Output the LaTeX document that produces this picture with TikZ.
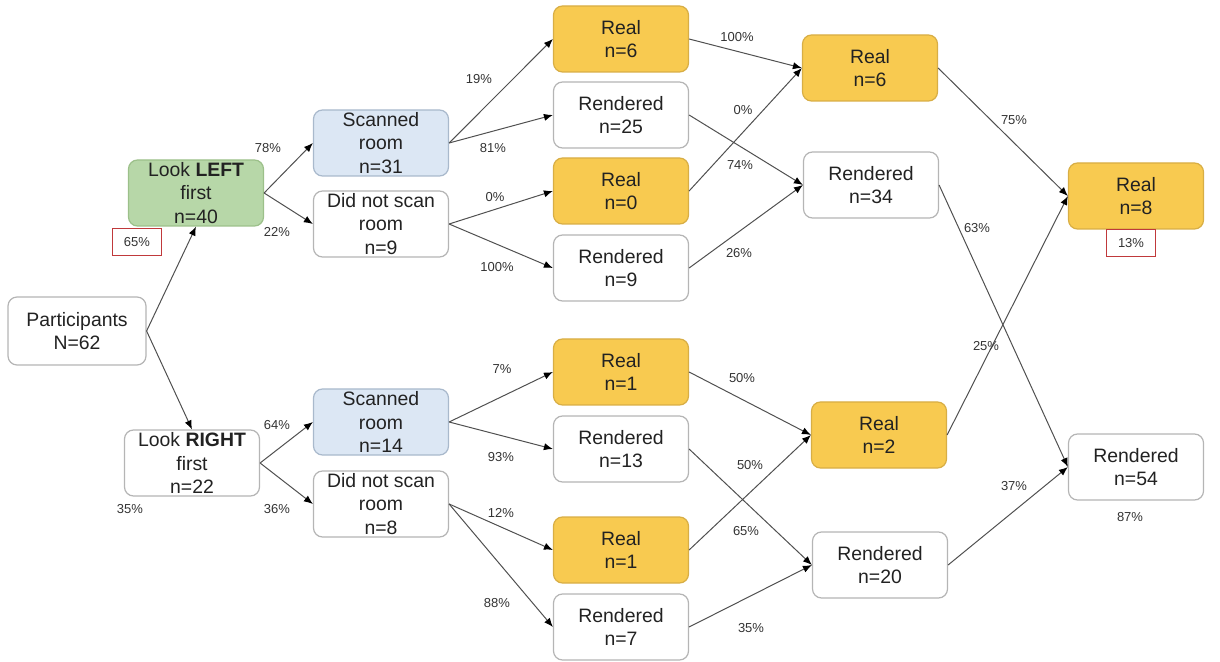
\documentclass[tikz,border=0pt]{standalone}
\usepackage{fontspec}
\setmainfont{Liberation Sans}
\usetikzlibrary{arrows.meta}
\definecolor{txt}{HTML}{222222}
\definecolor{lbl}{HTML}{333333}
\definecolor{wborder}{HTML}{B5B5B5}
\definecolor{gfill}{HTML}{B7D7A8}
\definecolor{gborder}{HTML}{9CC08A}
\definecolor{bfill}{HTML}{DCE7F4}
\definecolor{bborder}{HTML}{A9B9CC}
\definecolor{yfill}{HTML}{F8CA50}
\definecolor{yborder}{HTML}{D8AE45}
\definecolor{redbox}{HTML}{C0393B}
\definecolor{edgec}{HTML}{505050}
\tikzset{
  box/.style={draw=wborder, fill=white, line width=0.6pt, rounded corners=4.5pt,
    minimum width=67.5pt, minimum height=33pt, inner sep=0pt, align=center,
    text=txt, font=\fontsize{9.7}{11.7}\selectfont},
  wbox/.style={box},
  gbox/.style={box, draw=gborder, fill=gfill},
  bbox/.style={box, draw=bborder, fill=bfill},
  ybox/.style={box, draw=yborder, fill=yfill},
  pct/.style={text=lbl, font=\fontsize{6.5}{8}\selectfont, inner sep=0pt},
  rbox/.style={draw=redbox, line width=0.7pt, minimum width=24.5pt, minimum height=13.5pt,
    inner sep=0pt, text=lbl, font=\fontsize{6.5}{8}\selectfont},
  edge/.style={draw=edgec, line width=0.5pt, -{Latex[length=4.5pt,width=3.6pt,color=black]}},
}
\begin{document}
\begin{tikzpicture}[x=0.5pt,y=-0.5pt]
\useasboundingbox (0,0) rectangle (1220,662);
% column 0
\node[wbox, minimum width=69pt, minimum height=34pt] (part) at (77,331) {Participants\\N=62};
% column 1
\node[gbox] (ll) at (196,193) {Look \textbf{LEFT}\\first\\n=40};
\node[wbox] (lr) at (192,463) {Look \textbf{RIGHT}\\first\\n=22};
\node[rbox] (p65) at (137,242) {65\%};
\node[pct] (p35) at (130,509) {35\%};
% column 2
\node[bbox] (sa) at (381,143) {Scanned\\room\\n=31};
\node[wbox] (na) at (381,224) {Did not scan\\room\\n=9};
\node[bbox] (sb) at (381,422) {Scanned\\room\\n=14};
\node[wbox] (nb) at (381,504) {Did not scan\\room\\n=8};
% column 3
\node[ybox] (r1) at (621,39) {Real\\n=6};
\node[wbox] (d1) at (621,115) {Rendered\\n=25};
\node[ybox] (r2) at (621,191) {Real\\n=0};
\node[wbox] (d2) at (621,268) {Rendered\\n=9};
\node[ybox] (r3) at (621,372) {Real\\n=1};
\node[wbox] (d3) at (621,449) {Rendered\\n=13};
\node[ybox] (r4) at (621,550) {Real\\n=1};
\node[wbox] (d4) at (621,627) {Rendered\\n=7};
% column 4
\node[ybox] (ra) at (870,68) {Real\\n=6};
\node[wbox] (da) at (871,185) {Rendered\\n=34};
\node[ybox] (rb) at (879,435) {Real\\n=2};
\node[wbox] (db) at (880,565) {Rendered\\n=20};
% column 5
\node[ybox] (rf) at (1136,196) {Real\\n=8};
\node[wbox] (df) at (1136,467) {Rendered\\n=54};
\node[rbox] (p13) at (1131,243) {13\%};
\node[pct] (p87) at (1130,517) {87\%};
% edges
\draw[edge] (part.east) -- (ll.south);
\draw[edge] (part.east) -- (lr.north);
\draw[edge] (ll.east) -- (sa.west);
\draw[edge] (ll.east) -- (na.west);
\draw[edge] (lr.east) -- (sb.west);
\draw[edge] (lr.east) -- (nb.west);
\draw[edge] (sa.east) -- (r1.west);
\draw[edge] (sa.east) -- (d1.west);
\draw[edge] (na.east) -- (r2.west);
\draw[edge] (na.east) -- (d2.west);
\draw[edge] (sb.east) -- (r3.west);
\draw[edge] (sb.east) -- (d3.west);
\draw[edge] (nb.east) -- (r4.west);
\draw[edge] (nb.east) -- (d4.west);
\draw[edge] (r1.east) -- (ra.west);
\draw[edge] (r2.east) -- (ra.west);
\draw[edge] (d1.east) -- (da.west);
\draw[edge] (d2.east) -- (da.west);
\draw[edge] (r3.east) -- (rb.west);
\draw[edge] (r4.east) -- (rb.west);
\draw[edge] (d3.east) -- (db.west);
\draw[edge] (d4.east) -- (db.west);
\draw[edge] (ra.east) -- (rf.west);
\draw[edge] (rb.east) -- (rf.west);
\draw[edge] (da.east) -- (df.west);
\draw[edge] (db.east) -- (df.west);
% edge labels
\node[pct] (l78) at (268,148) {78\%};
\node[pct] (l22) at (277,232) {22\%};
\node[pct] (l64) at (277,425) {64\%};
\node[pct] (l36) at (277,509) {36\%};
\node[pct] (l19) at (479,79) {19\%};
\node[pct] (l81) at (493,148) {81\%};
\node[pct] (l0a) at (495,197) {0\%};
\node[pct] (l100a) at (497,267) {100\%};
\node[pct] (l7) at (502,369) {7\%};
\node[pct] (l93) at (501,457) {93\%};
\node[pct] (l12) at (501,513) {12\%};
\node[pct] (l88) at (497,603) {88\%};
\node[pct] (l100b) at (737,37) {100\%};
\node[pct] (l0b) at (743,110) {0\%};
\node[pct] (l74) at (740,165) {74\%};
\node[pct] (l26) at (739,253) {26\%};
\node[pct] (l50a) at (742,378) {50\%};
\node[pct] (l50b) at (750,465) {50\%};
\node[pct] (l65) at (746,531) {65\%};
\node[pct] (l35) at (751,628) {35\%};
\node[pct] (l75) at (1014,120) {75\%};
\node[pct] (l63) at (977,228) {63\%};
\node[pct] (l25) at (986,346) {25\%};
\node[pct] (l37) at (1014,486) {37\%};
\end{tikzpicture}
\end{document}
